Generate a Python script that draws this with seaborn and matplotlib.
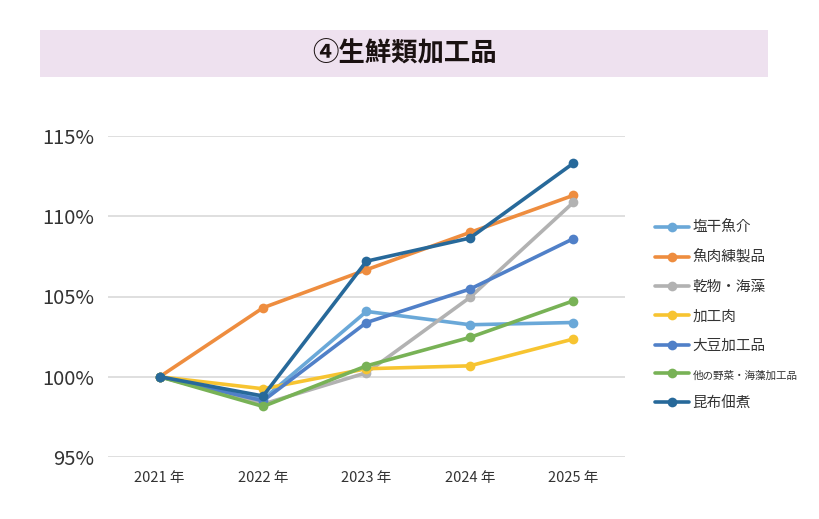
import pandas as pd
import seaborn as sns
import matplotlib.pyplot as plt
from matplotlib.lines import Line2D
from matplotlib.patches import Rectangle
import matplotlib.ticker as mticker

years = ["2021 年", "2022 年", "2023 年", "2024 年", "2025 年"]
series_names = ["塩干魚介", "魚肉練製品", "乾物・海藻", "加工肉", "大豆加工品", "他の野菜・海藻加工品", "昆布佃煮"]
shiokan = [100.0, 98.6, 104.07, 103.24, 103.38]
gyoniku = [100.0, 104.3, 106.67, 108.99, 111.3]
kanbutsu = [100.0, 98.3, 100.25, 104.94, 110.86]
kakoniku = [100.0, 99.25, 100.5, 100.68, 102.35]
daizu = [100.0, 98.5, 103.38, 105.46, 108.6]
yasai = [100.0, 98.15, 100.68, 102.45, 104.73]
konbu = [100.0, 98.8, 107.2, 108.64, 113.3]
colors = ["#6AA8D8", "#EE8D3F", "#B2B2B2", "#F7C431", "#5080C8", "#78B256", "#27699A"]

values = [shiokan, gyoniku, kanbutsu, kakoniku, daizu, yasai, konbu]
rows = []
for name, vals in zip(series_names, values):
    for i, v in enumerate(vals):
        rows.append({"x": i, "value": v, "series": name})
df = pd.DataFrame(rows)

sns.set_theme(style="white")
plt.rcParams['font.family'] = ['Noto Sans CJK JP', 'DejaVu Sans']

fig = plt.figure(figsize=(8.2, 5.19), dpi=100)
ax = fig.add_axes([108 / 820, 1 - 457 / 519, 517 / 820, 321 / 519])

sns.lineplot(data=df, x="x", y="value", hue="series", hue_order=series_names,
             palette=colors, marker="o", markersize=7, markeredgewidth=0,
             linewidth=2.6, legend=False, ax=ax)

ax.set_xlim(-0.5, 4.5)
ax.set_ylim(95, 115)
ax.set_xticks(range(len(years)))
ax.set_xticklabels(years, fontsize=10.5, color="#333333")
ax.yaxis.set_major_locator(mticker.MultipleLocator(5))
ax.yaxis.set_major_formatter(mticker.FuncFormatter(lambda v, p: f"{int(round(v))}%"))
ax.tick_params(axis="y", labelsize=14.5, labelcolor="#333333", length=0, pad=10)
ax.tick_params(axis="x", length=0, pad=10)
ax.grid(axis="y", color="#D9D9D9", linewidth=1.2)
ax.set_axisbelow(True)
for s in ax.spines.values():
    s.set_visible(False)
ax.set_xlabel("")
ax.set_ylabel("")

handles = [Line2D([0], [0], color=c, linewidth=2.6, marker="o", markersize=7, markeredgewidth=0)
           for c in colors]
leg = fig.legend(handles, series_names, loc="upper left", bbox_to_anchor=(642 / 820, 1 - 208 / 519),
                 frameon=False, fontsize=10.5, handlelength=2.3, labelspacing=1.05, handletextpad=0.25,
                 labelcolor="#333333")
leg.get_texts()[5].set_fontsize(7.6)

# title banner
fig.patches.append(Rectangle((40 / 820, 1 - 77 / 519), 728 / 820, 47 / 519,
                             transform=fig.transFigure, facecolor="#EEE1EF", edgecolor="none", zorder=0))
fig.text(405 / 820, 1 - 54 / 519, "④生鮮類加工品", ha="center", va="center",
         fontsize=19, fontweight="bold", color="#1A1111")

fig.savefig("out.png", dpi=100)
